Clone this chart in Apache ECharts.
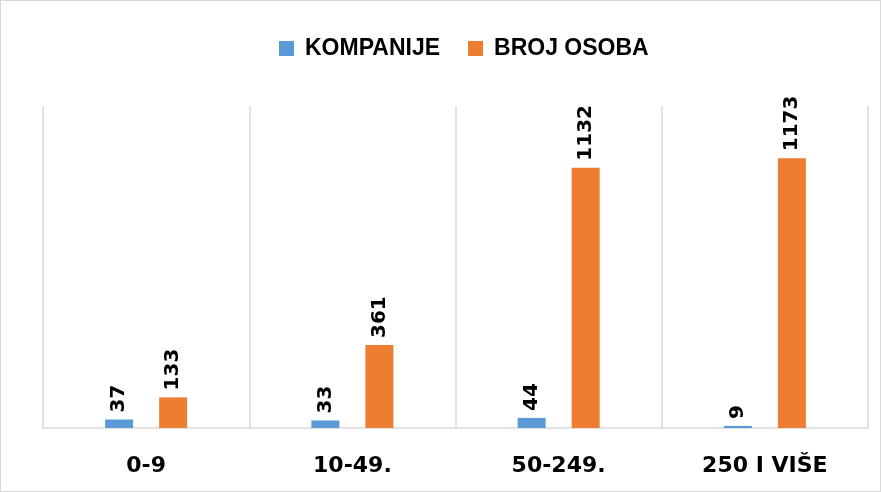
<!DOCTYPE html>
<html>
<head>
<meta charset="utf-8">
<script src="https://cdn.jsdelivr.net/npm/echarts@6/dist/echarts.min.js"></script>
<style>
  html, body { margin: 0; padding: 0; background: #fff; }
  #chart { width: 881px; height: 492px; box-sizing: border-box; border: 1px solid #d9d9d9; }
</style>
</head>
<body>
<div id="chart"></div>
<script>
// podaci sa slike
const categories = ['0-9', '10-49.', '50-249.', '250 I VIŠE']
const kompanije = [37, 33, 44, 9]
const brojOsoba = [133, 361, 1132, 1173]

const chart = echarts.init(document.getElementById('chart'), null, { renderer: 'canvas' })

const labelStyle = {
    show: true,
    position: 'top',
    rotate: 90,
    align: 'left',
    verticalAlign: 'middle',
    distance: 7,
    color: '#000',
    fontFamily: 'DejaVu Sans',
    fontWeight: 'bold',
    fontSize: 20
}

chart.setOption({
    animation: false,
    legend: {
        top: 31,
        left: 273,
        itemWidth: 15,
        itemHeight: 15,
        itemGap: 28,
        icon: 'rect',
        textStyle: {
            fontFamily: 'Liberation Sans',
            fontWeight: 'bold',
            fontSize: 23,
            color: '#000',
            padding: [0, 0, 0, 6]
        },
        data: ['KOMPANIJE', 'BROJ OSOBA']
    },
    grid: { left: 42, right: 12, top: 105, bottom: 63 },
    xAxis: {
        type: 'category',
        data: categories,
        axisLine: { lineStyle: { color: '#d9d9d9', width: 1.5 } },
        axisTick: { show: false },
        splitLine: { show: true, interval: 0, lineStyle: { color: '#d9d9d9', width: 1.5 } },
        axisLabel: {
            margin: 27,
            color: '#000',
            fontFamily: 'DejaVu Sans',
            fontWeight: 'bold',
            fontSize: 22
        }
    },
    yAxis: {
        type: 'value',
        min: 0,
        max: 1400,
        show: false,
        splitLine: { show: false }
    },
    series: [
        {
            name: 'KOMPANIJE',
            type: 'bar',
            data: kompanije,
            barWidth: 28,
            barGap: '93%',
            itemStyle: { color: '#5b9bd5' },
            label: labelStyle
        },
        {
            name: 'BROJ OSOBA',
            type: 'bar',
            data: brojOsoba,
            barWidth: 28,
            itemStyle: { color: '#ed7d31' },
            label: labelStyle
        }
    ]
})
</script>
</body>
</html>
